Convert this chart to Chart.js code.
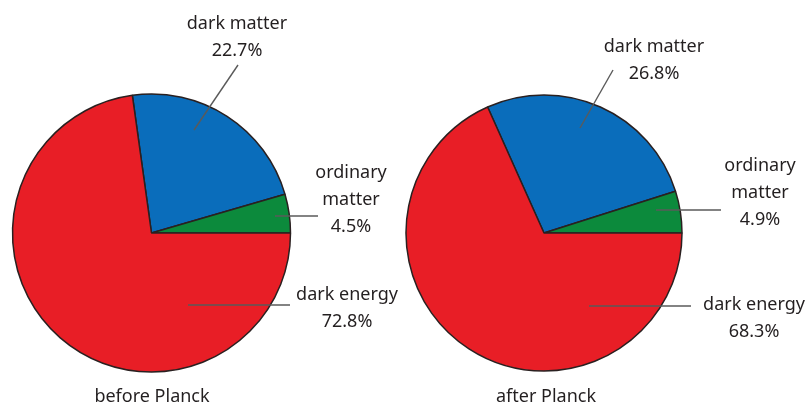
<!DOCTYPE html>
<html>
<head>
<meta charset="utf-8">
<script src="https://cdn.jsdelivr.net/npm/chart.js@4"></script>
<style>
  html, body { margin: 0; padding: 0; background: #ffffff; }
  #wrap { display: flex; width: 808px; height: 404px; }
  canvas { display: block; }
</style>
</head>
<body>
<div id="wrap">
  <canvas id="c1" width="404" height="404"></canvas>
  <canvas id="c2" width="404" height="404"></canvas>
</div>
<script>
// ---- data ----
const categories = ['dark matter', 'ordinary matter', 'dark energy'];
const labelLines = [['dark matter'], ['ordinary', 'matter'], ['dark energy']];
const beforePlanck = [22.7, 4.5, 72.8];
const afterPlanck = [26.8, 4.9, 68.3];
const chartTitles = ['before Planck', 'after Planck'];

// ---- styling / layout ----
const sliceColors = ['#0a6dbb', '#0c8a3c', '#e81e26'];
const FONT = '18px "Noto Sans", sans-serif';
const TEXT_COLOR = '#231f20';
const LINE_GAP = 27;

const layouts = [
  { // before Planck
    padding: { left: 0, right: 101, top: 62, bottom: 0 },
    radius: 139,
    title: { x: 152, y: 402 },
    labels: [
      { x: 237, y: 29, line: [238, 65, 194, 130] },
      { x: 351, y: 178, line: [275, 216, 318, 216] },
      { x: 347, y: 300, line: [188, 305, 290, 305] }
    ]
  },
  { // after Planck
    padding: { left: 0, right: 124, top: 62, bottom: 0 },
    radius: 138,
    title: { x: 142, y: 402 },
    labels: [
      { x: 250, y: 52, line: [209, 70, 176, 128] },
      { x: 356, y: 171, line: [252, 210, 317, 210] },
      { x: 350, y: 310, line: [185, 306, 287, 306] }
    ]
  }
];

const labelPlugin = {
  id: 'sliceLabels',
  afterDraw(chart, args, opts) {
    const ctx = chart.ctx;
    const L = opts.layout;
    const values = chart.data.datasets[0].data;
    ctx.save();
    // leader lines
    ctx.strokeStyle = '#5a5a5a';
    ctx.lineWidth = 1.4;
    L.labels.forEach(l => {
      ctx.beginPath();
      ctx.moveTo(l.line[0], l.line[1]);
      ctx.lineTo(l.line[2], l.line[3]);
      ctx.stroke();
    });
    // texts
    ctx.fillStyle = TEXT_COLOR;
    ctx.font = FONT;
    ctx.textAlign = 'center';
    ctx.textBaseline = 'alphabetic';
    L.labels.forEach((l, i) => {
      const lines = labelLines[i].concat([values[i].toFixed(1) + '%']);
      lines.forEach((t, k) => ctx.fillText(t, l.x, l.y + k * LINE_GAP));
    });
    ctx.fillText(opts.title, L.title.x, L.title.y);
    ctx.restore();
  }
};

function makePie(id, values, idx) {
  const L = layouts[idx];
  const startDeg = 90 - (values[0] + values[1]) / 100 * 360;
  return new Chart(document.getElementById(id), {
    type: 'pie',
    data: {
      labels: categories,
      datasets: [{
        data: values,
        backgroundColor: sliceColors,
        borderColor: '#2a2020',
        borderWidth: 1.5,
        hoverOffset: 0
      }]
    },
    options: {
      responsive: false,
      devicePixelRatio: 1,
      animation: false,
      events: [],
      rotation: startDeg,
      radius: L.radius,
      layout: { padding: L.padding },
      plugins: {
        legend: { display: false },
        tooltip: { enabled: false },
        sliceLabels: { layout: L, title: chartTitles[idx] }
      }
    },
    plugins: [labelPlugin]
  });
}

makePie('c1', beforePlanck, 0);
makePie('c2', afterPlanck, 1);
</script>
</body>
</html>
